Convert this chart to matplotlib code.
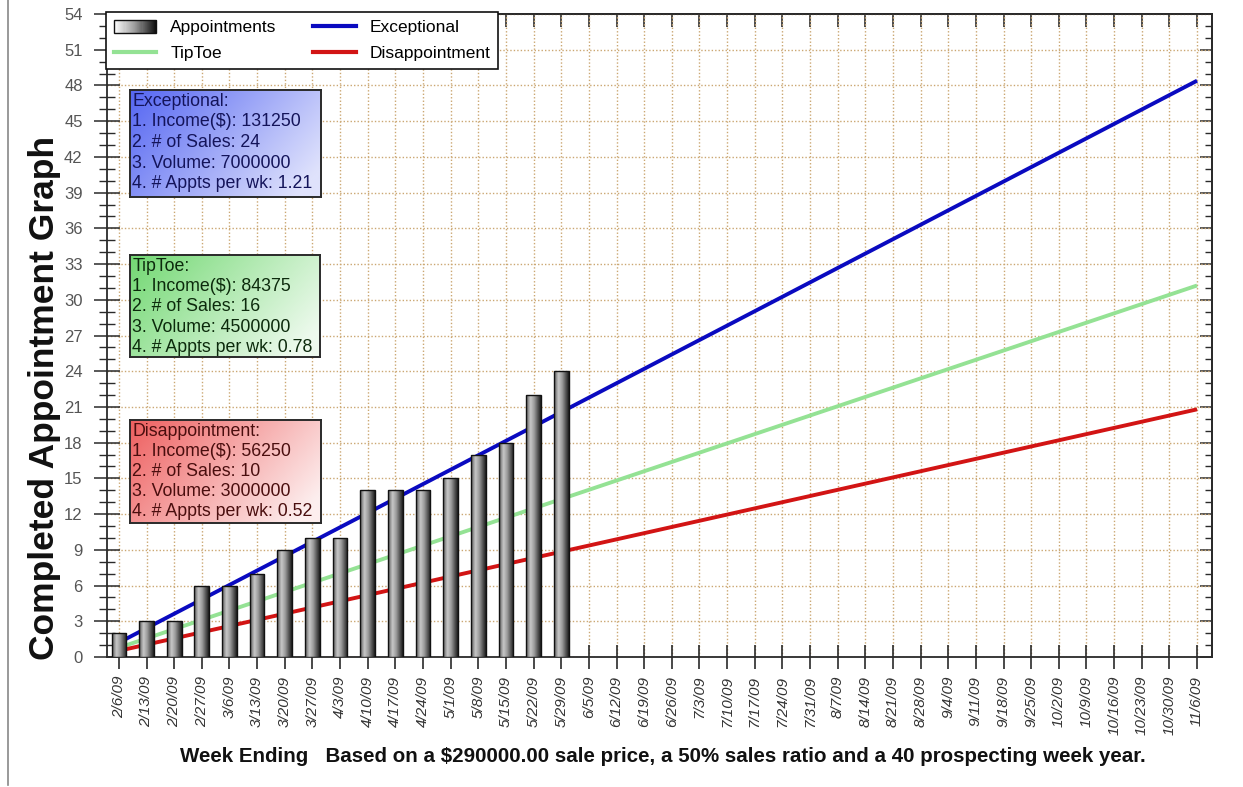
import numpy as np
import matplotlib
matplotlib.use("Agg")
import matplotlib.pyplot as plt
from matplotlib.patches import Rectangle
from matplotlib.lines import Line2D
from matplotlib.legend_handler import HandlerBase
from matplotlib.colors import LinearSegmentedColormap, to_rgb
from matplotlib.ticker import MultipleLocator, NullFormatter

plt.rcParams['font.family'] = ['Liberation Sans', 'DejaVu Sans']

# ---- data -------------------------------------------------------------
weeks = ['2/6/09', '2/13/09', '2/20/09', '2/27/09', '3/6/09', '3/13/09',
         '3/20/09', '3/27/09', '4/3/09', '4/10/09', '4/17/09', '4/24/09',
         '5/1/09', '5/8/09', '5/15/09', '5/22/09', '5/29/09', '6/5/09',
         '6/12/09', '6/19/09', '6/26/09', '7/3/09', '7/10/09', '7/17/09',
         '7/24/09', '7/31/09', '8/7/09', '8/14/09', '8/21/09', '8/28/09',
         '9/4/09', '9/11/09', '9/18/09', '9/25/09', '10/2/09', '10/9/09',
         '10/16/09', '10/23/09', '10/30/09', '11/6/09']

appointments = [2, 3, 3, 6, 6, 7, 9, 10, 10, 14, 14, 14, 15, 17, 18, 22, 24]

# goal lines: value at first week and at last week
exceptional_line = [1.21, 48.4]
tiptoe_line = [0.78, 31.2]
disappointment_line = [0.52, 20.8]

exceptional_info = ['Exceptional:', '1. Income($): 131250', '2. # of Sales: 24',
                    '3. Volume: 7000000', '4. # Appts per wk: 1.21']
tiptoe_info = ['TipToe:', '1. Income($): 84375', '2. # of Sales: 16',
               '3. Volume: 4500000', '4. # Appts per wk: 0.78']
disappointment_info = ['Disappointment:', '1. Income($): 56250', '2. # of Sales: 10',
                       '3. Volume: 3000000', '4. # Appts per wk: 0.52']

# ---- figure -----------------------------------------------------------
W, H = 1243, 787
fig = plt.figure(figsize=(W / 100, H / 100), dpi=100)


def fx(px):
    return px / W


def fy(py):
    return 1 - py / H


ax = fig.add_axes([fx(107), fy(657), fx(1212) - fx(107), fy(14) - fy(657)])

x = np.arange(len(weeks))
xb = x[:len(appointments)]
bar_w = 0.53

grid_col = '#cba772'
ax.set_axisbelow(True)
ax.xaxis.grid(True, color=grid_col, linestyle=(0, (1, 1.5)), linewidth=1.0)
ax.yaxis.grid(True, color=grid_col, linestyle=(0, (1, 1.5)), linewidth=1.0)

line_x = [x[0], x[-1]]
lw = 2.8
ax.plot(line_x, exceptional_line, color='#0a0ac0', lw=lw, zorder=2,
        solid_capstyle='butt')
ax.plot(line_x, tiptoe_line, color='#94e294', lw=lw, zorder=2,
        solid_capstyle='butt')
ax.plot(line_x, disappointment_line, color='#d21414', lw=lw, zorder=2,
        solid_capstyle='butt')

# shaded cylinder-like bars
bar_cmap = LinearSegmentedColormap.from_list(
    'cyl', [(0.0, '#5a5a5a'), (0.3, '#c8c8c8'), (0.55, '#9c9c9c'), (1.0, '#1c1c1c')])
bars = ax.bar(xb, appointments, bar_w, facecolor='none', edgecolor='#111111',
              linewidth=1.0, zorder=4)
grad = np.linspace(0, 1, 64).reshape(1, -1)
for b in bars:
    bx, by = b.get_x(), b.get_y()
    im = ax.imshow(grad, cmap=bar_cmap, extent=(bx, bx + b.get_width(), by, by + b.get_height()),
                   aspect='auto', interpolation='bilinear', zorder=3)
    im.set_clip_path(b)

ax.set_xlim(-0.43, 39.54)
ax.set_ylim(0, 54)

# ---- axes styling -----------------------------------------------------
spine_col = '#2a2a2a'
for s in ax.spines.values():
    s.set_color(spine_col)
    s.set_linewidth(1.3)

ax.set_xticks(x)
ax.set_xticklabels(weeks, rotation=90, fontsize=11, color='#333333', style='italic')
ax.yaxis.set_major_locator(MultipleLocator(3))
ax.yaxis.set_minor_locator(MultipleLocator(1))
ax.tick_params(axis='x', which='major', direction='inout', length=17, width=1.2,
               color=spine_col, pad=5)
ax.tick_params(axis='y', which='major', direction='inout', length=19, width=1.1,
               color=spine_col, labelsize=12, labelcolor='#555555', pad=8)
ax.tick_params(axis='y', which='minor', direction='inout', length=12, width=1.0,
               color=spine_col)

# inward ticks along the top and right edges
top = ax.secondary_xaxis('top')
top.set_xticks(x)
top.xaxis.set_major_formatter(NullFormatter())
top.tick_params(direction='in', length=9, width=1.2, color=spine_col)
top.spines['top'].set_color(spine_col)
top.spines['top'].set_linewidth(1.3)

right = ax.secondary_yaxis('right')
right.yaxis.set_major_locator(MultipleLocator(3))
right.yaxis.set_minor_locator(MultipleLocator(1))
right.yaxis.set_major_formatter(NullFormatter())
right.tick_params(which='major', direction='in', length=9, width=1.1, color=spine_col)
right.tick_params(which='minor', direction='in', length=5, width=1.0, color=spine_col)
right.spines['right'].set_color(spine_col)
right.spines['right'].set_linewidth(1.3)

# ---- legend -----------------------------------------------------------
leg_cmap = LinearSegmentedColormap.from_list('leg', ['#ffffff', '#9a9a9a', '#101010'])


class GradientHandler(HandlerBase):
    def create_artists(self, legend, orig_handle, xdescent, ydescent,
                       width, height, fontsize, trans):
        n = 40
        arts = []
        for i in range(n):
            r = Rectangle((-xdescent + width * i / n, -ydescent), width / n + 0.2, height,
                          facecolor=leg_cmap(i / (n - 1)), edgecolor='none', transform=trans)
            arts.append(r)
        arts.append(Rectangle((-xdescent, -ydescent), width, height, fill=False,
                              edgecolor='#111111', lw=1.0, transform=trans))
        return arts


appt_handle = Rectangle((0, 0), 1, 1)
h_exc = Line2D([], [], color='#0a0ac0', lw=3.0)
h_tip = Line2D([], [], color='#94e294', lw=3.0)
h_dis = Line2D([], [], color='#d21414', lw=3.0)
leg = ax.legend([appt_handle, h_tip, h_exc, h_dis],
                ['Appointments', 'TipToe', 'Exceptional', 'Disappointment'],
                ncol=2, loc='upper left', bbox_to_anchor=(fx(106), fy(12)),
                bbox_transform=fig.transFigure, borderaxespad=0,
                fontsize=12.5, handlelength=2.45, handleheight=0.75,
                handler_map={Rectangle: GradientHandler()},
                fancybox=False, framealpha=1, edgecolor='#111111',
                columnspacing=2.1, labelspacing=0.6, borderpad=0.45,
                handletextpad=0.8)
leg.get_frame().set_linewidth(1.2)
leg.set_zorder(10)

# ---- info boxes -------------------------------------------------------


def info_box(left, top_px, right_px, bottom, c0, c1, txt_color, lines, first, step):
    bax = fig.add_axes([fx(left), fy(bottom), fx(right_px) - fx(left), fy(top_px) - fy(bottom)])
    nx, ny = 200, 100
    X, Y = np.meshgrid(np.linspace(0, 1, nx), np.linspace(0, 1, ny))
    t = np.clip(0.75 * X + 0.35 * Y, 0, 1)[..., None]
    a, b = np.array(to_rgb(c0)), np.array(to_rgb(c1))
    img = a * (1 - t) + b * t
    bax.imshow(img, extent=(0, 1, 0, 1), aspect='auto', origin='upper')
    bax.set_xlim(0, 1)
    bax.set_ylim(0, 1)
    bax.set_xticks([])
    bax.set_yticks([])
    for s in bax.spines.values():
        s.set_color('#2a2a2a')
        s.set_linewidth(1.4)
    h = bottom - top_px
    for i, ln in enumerate(lines):
        bax.text(2.5 / (right_px - left), 1 - (first + i * step) / h, ln, fontsize=12.8,
                 color=txt_color, va='center', ha='left')
    return bax


info_box(130, 90, 321, 197, '#5566f2', '#dfe2fc', '#14145a', exceptional_info, 11, 20.7)
info_box(130, 255, 320, 357, '#72d872', '#eefaee', '#0c2a0c', tiptoe_info, 11.5, 20.2)
info_box(130, 420, 321, 523, '#ee5f5f', '#fdeeee', '#4a0e0e', disappointment_info, 12, 20.0)

# ---- titles -----------------------------------------------------------
fig.text(fx(45), fy(398), 'Completed Appointment Graph', rotation=90, fontsize=25.5,
         fontweight='bold', color='#111111', ha='center', va='center')
fig.text(fx(663), fy(757),
         'Week Ending   Based on a $290000.00 sale price, a 50% sales ratio and a 40 prospecting week year.',
         fontsize=14.8, fontweight='bold', color='#111111', ha='center', va='center')

fig.add_artist(Line2D([fx(7.5), fx(7.5)], [fy(0), fy(785)], color='#888888', lw=1.2))

fig.savefig('out.png', dpi=100)
